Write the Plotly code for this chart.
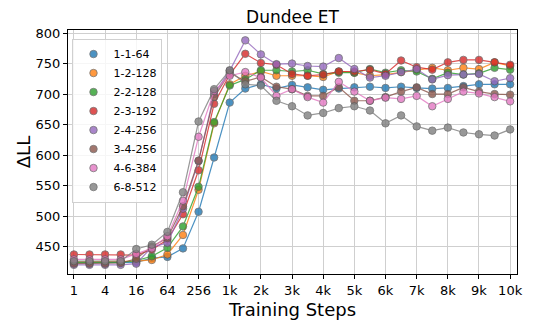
import plotly.graph_objects as go
import numpy as np

steps = ["1", "2", "4", "8", "16", "32", "64", "128", "256", "512", "1k", "1.5k", "2k", "2.5k",
         "3k", "3.5k", "4k", "4.5k", "5k", "5.5k", "6k", "6.5k", "7k", "7.5k", "8k", "8.5k",
         "9k", "9.5k", "10k"]
tick_labels = ["1", "4", "16", "64", "256", "1k", "2k", "3k", "4k", "5k", "6k", "7k", "8k", "9k", "10k"]

s_1_1_64 = [423, 423, 423, 424, 424, 431, 433, 447, 507, 596, 686, 709, 716, 709, 715, 711, 707,
            709, 711, 712, 710, 712, 710, 709, 710, 713, 716, 716, 716]
s_1_2_128 = [425, 425, 425, 425, 426, 428, 437, 469, 543, 652, 716, 730, 737, 730, 730, 730, 728,
             737, 735, 730, 732, 736, 740, 743, 739, 743, 741, 752, 746]
s_2_2_128 = [424, 424, 424, 424, 427, 434, 448, 483, 548, 654, 714, 724, 739, 739, 737, 739, 733,
             735, 735, 741, 735, 739, 737, 725, 735, 732, 734, 743, 740]
s_2_3_192 = [437, 437, 437, 437, 436, 445, 461, 503, 575, 684, 732, 766, 751, 748, 733, 730, 732,
             737, 737, 740, 733, 755, 744, 740, 752, 756, 756, 752, 748]
s_2_4_256 = [420, 420, 420, 420, 422, 449, 456, 512, 590, 700, 738, 788, 765, 749, 750, 746, 745,
             759, 741, 727, 730, 736, 741, 724, 731, 732, 733, 721, 726]
s_3_4_256 = [422, 422, 422, 423, 430, 450, 464, 516, 591, 695, 735, 721, 728, 712, 708, 697, 697,
             711, 689, 689, 695, 704, 711, 700, 700, 711, 704, 700, 699]
s_4_6_384 = [429, 429, 429, 429, 438, 447, 467, 525, 630, 705, 730, 736, 727, 697, 708, 695, 686,
             720, 704, 689, 694, 692, 697, 680, 692, 704, 701, 695, 688]
s_6_8_512 = [426, 426, 426, 426, 446, 453, 474, 539, 655, 708, 739, 716, 714, 689, 680, 665, 669,
             677, 680, 673, 652, 665, 647, 640, 645, 637, 634, 632, 642]

series = [
    ("1-1-64", s_1_1_64, "#1f77b4"),
    ("1-2-128", s_1_2_128, "#ff7f0e"),
    ("2-2-128", s_2_2_128, "#2ca02c"),
    ("2-3-192", s_2_3_192, "#d62728"),
    ("2-4-256", s_2_4_256, "#9467bd"),
    ("3-4-256", s_3_4_256, "#8c564b"),
    ("4-6-384", s_4_6_384, "#e377c2"),
    ("6-8-512", s_6_8_512, "#7f7f7f"),
]

pos = np.arange(len(steps)) * 0.5
tick_pos = np.arange(len(tick_labels))

fig = go.Figure()
for name, vals, col in series:
    fig.add_trace(go.Scatter(
        x=pos, y=vals, mode="lines+markers", name=name, showlegend=False,
        line=dict(color=col, width=1.2), opacity=0.8,
        marker=dict(size=7.5, color=col, line=dict(color="#555555", width=0.8)),
        text=steps, hovertemplate="%{text}: %{y}<extra>" + name + "</extra>",
    ))
for name, vals, col in series:
    fig.add_trace(go.Scatter(
        x=[None], y=[None], mode="markers", name=name, showlegend=True,
        marker=dict(size=7.5, color=col, opacity=0.8, line=dict(color="#555555", width=0.8)),
    ))

axis_common = dict(
    showline=True, linecolor="black", linewidth=1, mirror=True,
    ticks="outside", ticklen=4, tickcolor="black",
    showgrid=True, gridcolor="#cfcfcf", gridwidth=1,
    tickfont=dict(family="DejaVu Sans", size=13, color="black"),
    zeroline=False,
)

# page body has an 8px margin, so the figure is sized to fit the 533x326 window
fig.update_layout(
    width=525, height=318,
    margin=dict(l=60, r=10, t=22, b=48),
    paper_bgcolor="white", plot_bgcolor="white",
    title=dict(text="Dundee ET", xref="paper", x=0.5, xanchor="center",
               yref="container", y=0.972, yanchor="middle",
               font=dict(family="DejaVu Sans", size=17, color="black")),
    font=dict(family="DejaVu Sans", color="black"),
    xaxis=dict(range=[-0.19, 14.22], tickvals=tick_pos, ticktext=tick_labels,
               title=dict(text="Training Steps", font=dict(size=18), standoff=6),
               **axis_common),
    yaxis=dict(range=[405, 805], tickvals=[450, 500, 550, 600, 650, 700, 750, 800],
               title=dict(text="ΔLL", font=dict(size=18), standoff=0),
               **axis_common),
    legend=dict(x=0.01, y=0.965, xanchor="left", yanchor="top",
                bgcolor="rgba(255,255,255,0.8)", bordercolor="#d0d0d0", borderwidth=1,
                font=dict(family="DejaVu Sans", size=11, color="black"),
                tracegroupgap=0, itemwidth=30),
)

fig.write_html("out.html")
